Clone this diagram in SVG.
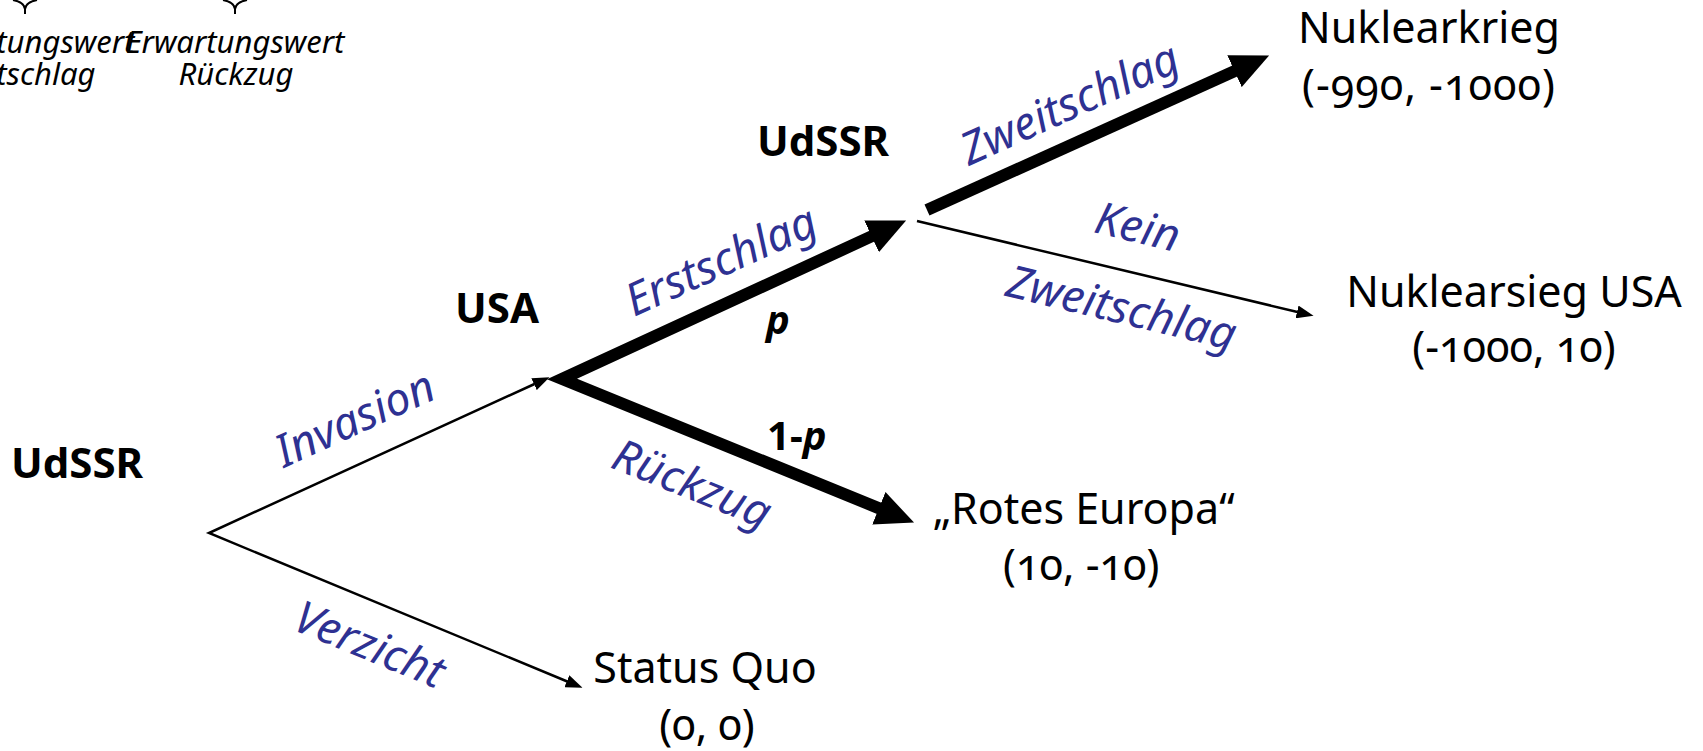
<svg xmlns="http://www.w3.org/2000/svg" width="1703" height="751" viewBox="0 0 1703 751">
<style>
text{font-family:"Noto Sans","Open Sans","Liberation Sans",sans-serif;}
.out{font-size:43px;fill:#000;font-variant-numeric:oldstyle-nums;}
.player{font-size:42px;font-weight:700;fill:#000;}
.act{font-size:45px;font-style:italic;fill:#2e3192;}
.prob{font-size:40px;font-weight:700;fill:#000;}
.note{font-size:31px;font-style:italic;fill:#000;}
.thin{fill:none;stroke:#000;stroke-width:2.5;stroke-linejoin:miter;stroke-miterlimit:20;}
.thick{fill:none;stroke:#000;stroke-width:12;stroke-linejoin:miter;stroke-miterlimit:20;}
.brace{fill:none;stroke:#000;stroke-width:2;}
</style>
<defs>
<marker id="ahThin" markerUnits="userSpaceOnUse" viewBox="0 0 17 13" markerWidth="17" markerHeight="13" refX="0.5" refY="6.5" orient="auto-start-reverse"><path d="M0,0 L17,6.5 L0,13 z" fill="#000"/></marker>
<marker id="ahThick" markerUnits="userSpaceOnUse" viewBox="0 0 38 35" markerWidth="38" markerHeight="35" refX="1" refY="17.5" orient="auto-start-reverse"><path d="M0,0 L38,17.5 L0,35 z" fill="#000"/></marker>
</defs>

<g id="connectors">
<path id="e-invasion-verzicht" class="thin" d="M534.5,384 L209,533 L567.3,681.5" marker-start="url(#ahThin)" marker-end="url(#ahThin)"/>
<path id="e-erstschlag-rueckzug" class="thick" d="M872.5,235.9 L562,379 L879.8,508.6" marker-start="url(#ahThick)" marker-end="url(#ahThick)"/>
<path id="e-zweitschlag" class="thick" d="M927,210 L1235.4,70.7" marker-end="url(#ahThick)"/>
<path id="e-kein" class="thin" d="M917,221 L1297.5,312" marker-end="url(#ahThin)"/>
<g id="edge-labels">
<text class="act" transform="translate(284,468) rotate(-24.5)">Invasion</text>
<text class="act" transform="translate(291,629) rotate(22.4)">Verzicht</text>
<text class="act" transform="translate(634,317) rotate(-24.3)">Erstschlag</text>
<text class="act" transform="translate(609,467) rotate(21.9)">Rückzug</text>
<text class="act" transform="translate(969,166) rotate(-24.3)">Zweitschlag</text>
<text class="act" text-anchor="middle" transform="translate(1134,242) rotate(13.5)">Kein</text>
<text class="act" text-anchor="middle" transform="translate(1118,323) rotate(13.5)">Zweitschlag</text>
<text class="prob" x="766" y="334" font-style="italic">p</text>
<text class="prob" x="767" y="450">1-<tspan font-style="italic">p</tspan></text>
</g>
</g>

<g id="udssr-root"><text class="player" x="11" y="478">UdSSR</text></g>
<g id="usa"><text class="player" x="455" y="323">USA</text></g>
<g id="udssr-second"><text class="player" x="757" y="156">UdSSR</text></g>

<g id="nuklearkrieg">
<text class="out" x="1429" y="43" text-anchor="middle">Nuklearkrieg</text>
<text class="out" x="1429" y="100" text-anchor="middle" letter-spacing="1">(-990, -1000)</text>
</g>
<g id="nuklearsieg">
<text class="out" x="1514" y="307" text-anchor="middle">Nuklearsieg USA</text>
<text class="out" x="1514" y="362" text-anchor="middle">(-1000, 10)</text>
</g>
<g id="rotes-europa">
<text class="out" x="933" y="524">„Rotes Europa“</text>
<text class="out" x="1003" y="580">(10, -10)</text>
</g>
<g id="status-quo">
<text class="out" x="705" y="683" text-anchor="middle">Status Quo</text>
<text class="out" x="707" y="740" text-anchor="middle">(0, 0)</text>
</g>

<g id="ew-erstschlag">
<path class="brace" d="M13,0 Q24,2 25,9 M37,0 Q26,2 25,9 L25,14"/>
<text class="note" x="25" y="53" text-anchor="middle">Erwartungswert</text>
<text class="note" x="25" y="85" text-anchor="middle">Erstschlag</text>
</g>
<g id="ew-rueckzug">
<path class="brace" d="M223,0 Q234,2 235,9 M247,0 Q236,2 235,9 L235,14"/>
<text class="note" x="235" y="53" text-anchor="middle">Erwartungswert</text>
<text class="note" x="236" y="85" text-anchor="middle">Rückzug</text>
</g>
</svg>
